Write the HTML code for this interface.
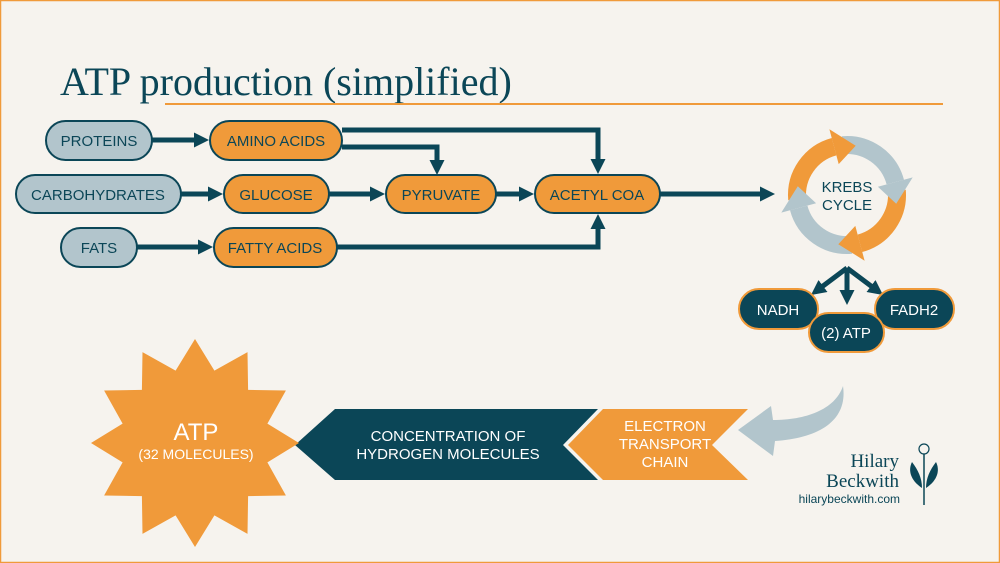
<!DOCTYPE html>
<html><head><meta charset="utf-8"><style>
html,body{margin:0;padding:0;background:#f6f3ee;}
svg{display:block;}
text{font-family:"Liberation Sans",sans-serif;}
</style></head><body>
<svg width="1000" height="563" viewBox="0 0 1000 563" xmlns="http://www.w3.org/2000/svg">
<defs>
<marker id="ah" markerWidth="3" markerHeight="3" refX="2" refY="1.5" orient="auto" markerUnits="strokeWidth">
<path d="M0,0 L3,1.5 L0,3 Z" fill="#0b4657"/></marker>
</defs>
<rect x="0.5" y="0.5" width="999" height="562" fill="#f6f3ee" stroke="#f09a3a" stroke-width="1.5"/>
<text x="60" y="95" font-size="40" fill="#0b4657" style="font-family:'Liberation Serif',serif">ATP production (simplified)</text>
<line x1="165" y1="104" x2="943" y2="104" stroke="#f09a3a" stroke-width="2"/>

<g stroke="#0b4657" stroke-width="5" fill="none">
<line x1="152" y1="140" x2="204" y2="140" marker-end="url(#ah)"/>
<line x1="181" y1="194" x2="218" y2="194" marker-end="url(#ah)"/>
<line x1="137" y1="247" x2="208" y2="247" marker-end="url(#ah)"/>
<line x1="329" y1="194" x2="380" y2="194" marker-end="url(#ah)"/>
<line x1="496" y1="194" x2="529" y2="194" marker-end="url(#ah)"/>
<line x1="660" y1="194" x2="770" y2="194" marker-end="url(#ah)"/>
<polyline points="342,130 598,130 598,169" marker-end="url(#ah)"/>
<polyline points="342,147 437,147 437,170" marker-end="url(#ah)"/>
<polyline points="337,247 598,247 598,219" marker-end="url(#ah)"/>
<line x1="847" y1="268" x2="847" y2="300" marker-end="url(#ah)"/>
<line x1="847" y1="268" x2="815" y2="292" marker-end="url(#ah)"/>
<line x1="847" y1="268" x2="879" y2="292" marker-end="url(#ah)"/>
</g>

<g stroke="#0b4657" stroke-width="2">
<rect x="46" y="121" width="106" height="39" rx="19.5" fill="#b2c5cc"/>
<rect x="16" y="175" width="165" height="38" rx="19" fill="#b2c5cc"/>
<rect x="61" y="228" width="76" height="39" rx="19.5" fill="#b2c5cc"/>
<rect x="210" y="121" width="132" height="39" rx="19.5" fill="#f09a3a"/>
<rect x="224" y="175" width="105" height="38" rx="19" fill="#f09a3a"/>
<rect x="214" y="228" width="123" height="39" rx="19.5" fill="#f09a3a"/>
<rect x="386" y="175" width="110" height="38" rx="19" fill="#f09a3a"/>
<rect x="535" y="175" width="125" height="38" rx="19" fill="#f09a3a"/>
</g>
<g fill="#0b4657" font-size="15" text-anchor="middle">
<text x="99" y="146">PROTEINS</text>
<text x="98" y="200">CARBOHYDRATES</text>
<text x="99" y="253">FATS</text>
<text x="276" y="146">AMINO ACIDS</text>
<text x="276" y="200">GLUCOSE</text>
<text x="275" y="253">FATTY ACIDS</text>
<text x="441" y="200">PYRUVATE</text>
<text x="597" y="200">ACETYL COA</text>
</g>

<!-- Krebs cycle -->
<g transform="translate(847,195)">
<g fill="none" stroke-width="18">
<path d="M-49.8,4.4 A50,50 0 0 1 -12.9,-48.3" stroke="#f09a3a"/>
<path d="M-4.4,-49.8 A50,50 0 0 1 48.3,-12.9" stroke="#b2c5cc"/>
<path d="M49.8,-4.4 A50,50 0 0 1 12.9,48.3" stroke="#f09a3a"/>
<path d="M4.4,49.8 A50,50 0 0 1 -48.3,12.9" stroke="#b2c5cc"/>
</g>
<polygon points="-8.3,-30.9 -17.6,-65.7 8.7,-49.2" fill="#f09a3a"/>
<polygon points="30.9,-8.3 65.7,-17.6 49.2,8.7" fill="#b2c5cc"/>
<polygon points="8.3,30.9 17.6,65.7 -8.7,49.2" fill="#f09a3a"/>
<polygon points="-30.9,8.3 -65.7,17.6 -49.2,-8.7" fill="#b2c5cc"/>
<text x="0" y="-3" font-size="15" fill="#0b4657" text-anchor="middle">KREBS</text>
<text x="0" y="15" font-size="15" fill="#0b4657" text-anchor="middle">CYCLE</text>
</g>

<g stroke="#f09a3a" stroke-width="2" fill="#0b4657">
<rect x="739" y="289" width="79" height="40" rx="20"/>
<rect x="875" y="289" width="79" height="40" rx="20"/>
<rect x="809" y="313" width="75" height="39" rx="19.5"/>
</g>
<g fill="#fff" font-size="15" text-anchor="middle">
<text x="778" y="315">NADH</text>
<text x="914" y="315">FADH2</text>
<text x="846" y="338">(2) ATP</text>
</g>

<!-- curved grey arrow -->
<path d="M843,386 C848,420 820,438 775,441 L773,456 L738,430 L771,406 L773,420 C805,420 835,410 843,386 Z" fill="#b2c5cc"/>

<!-- chevrons -->
<polygon points="295,445 335,409 598,409 563,445 598,480 335,480" fill="#0b4657"/>
<polygon points="603,409 748,409 712,445 748,480 603,480 568,445" fill="#f09a3a"/>
<g font-size="15" text-anchor="middle">
<text x="448" y="441" fill="#fff">CONCENTRATION OF</text>
<text x="448" y="459" fill="#fff">HYDROGEN MOLECULES</text>
<text x="665" y="431" fill="#fff">ELECTRON</text>
<text x="665" y="449" fill="#fff">TRANSPORT</text>
<text x="665" y="467" fill="#fff">CHAIN</text>
</g>

<!-- star -->
<polygon fill="#f09a3a" points="195.0,339.0 214.4,370.6 247.5,352.1 248.1,389.9 285.9,390.5 267.4,423.6 299.0,443.0 267.4,462.4 285.9,495.5 248.1,496.1 247.5,533.9 214.4,515.4 195.0,547.0 175.6,515.4 142.5,533.9 141.9,496.1 104.1,495.5 122.6,462.4 91.0,443.0 122.6,423.6 104.1,390.5 141.9,389.9 142.5,352.1 175.6,370.6"/>
<text x="196" y="440" font-size="24" fill="#fff" text-anchor="middle">ATP</text>
<text x="196" y="459" font-size="14" fill="#fff" text-anchor="middle">(32 MOLECULES)</text>

<!-- logo -->
<text x="899" y="467" font-size="19" fill="#0b4657" text-anchor="end" style="font-family:'Liberation Serif',serif">Hilary</text>
<text x="899" y="487" font-size="19" fill="#0b4657" text-anchor="end" style="font-family:'Liberation Serif',serif">Beckwith</text>
<text x="900" y="503" font-size="12" fill="#0b4657" text-anchor="end">hilarybeckwith.com</text>
<g fill="#0b4657" stroke="#0b4657">
<circle cx="924" cy="449" r="5" fill="none" stroke-width="1.2"/>
<line x1="924" y1="454" x2="924" y2="505" stroke-width="1.5"/>
<path d="M922,488 C910,480 908,470 912,462 C918,470 922,478 922,488 Z" stroke="none"/>
<path d="M926,488 C938,480 940,470 936,462 C930,470 926,478 926,488 Z" stroke="none"/>
</g>
</svg>
</body></html>
